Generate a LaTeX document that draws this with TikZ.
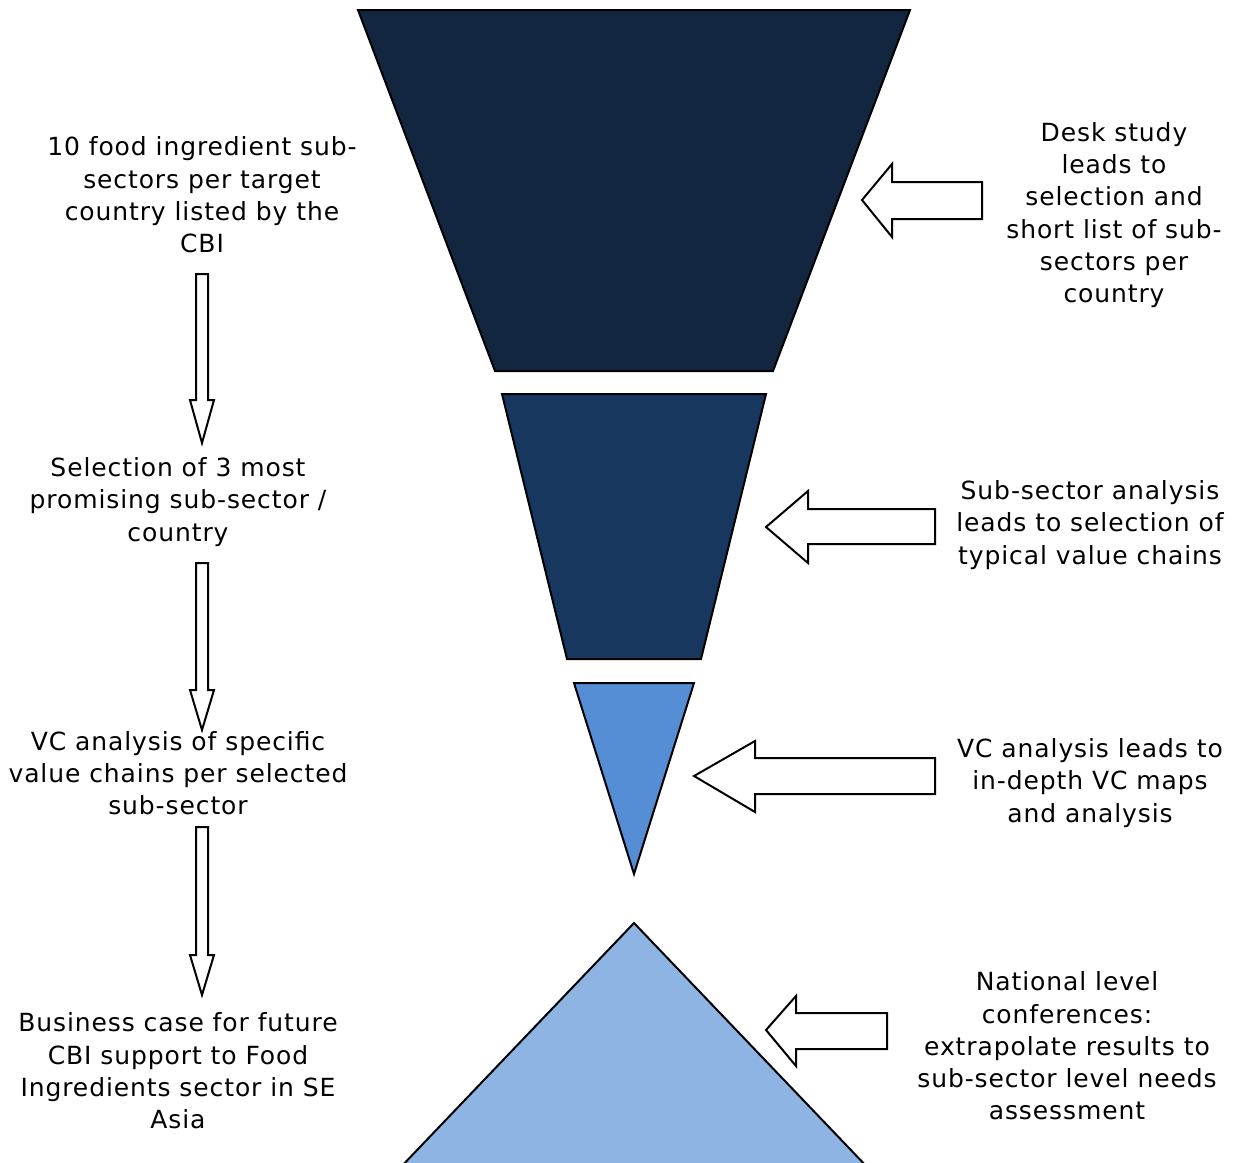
\documentclass[tikz,border=0pt]{standalone}
\usepackage{fontspec}
\setmainfont{DejaVu Sans}[LetterSpace=3.6]
\definecolor{funnelA}{RGB}{19,38,64}
\definecolor{funnelB}{RGB}{23,55,94}
\definecolor{funnelC}{RGB}{85,142,213}
\definecolor{funnelD}{RGB}{142,180,227}
\begin{document}
\begin{tikzpicture}[x=1pt,y=-1pt,
  stage/.style={draw=black,line width=2pt,line join=miter},
  blockarrow/.style={draw=black,fill=white,line width=2pt,line join=miter},
  lbl/.style={align=center,inner sep=0pt,font=\fontsize{25}{32.3}\selectfont}]
\useasboundingbox (0,0) rectangle (1244,1162);
\begin{scope}
\clip (0,0) rectangle (1244,1162);
% funnel stages
\draw[stage,fill=funnelA] (358,10) -- (910,10) -- (773,371) -- (495,371) -- cycle;
\draw[stage,fill=funnelB] (502,394) -- (766,394) -- (701,659) -- (567,659) -- cycle;
\draw[stage,fill=funnelC] (574,683) -- (694,683) -- (634,874) -- cycle;
\draw[stage,fill=funnelD] (634,923) -- (870,1170) -- (398,1170) -- cycle;
\end{scope}
% left column: process steps
\node[lbl] (s1) at (202,195) {10 food ingredient sub-\\sectors per target\\country listed by the\\CBI};
\node[lbl] (s2) at (178,502) {Selection of 3 most\\promising sub-sector /\\country};
\node[lbl] (s3) at (178,773) {VC analysis of specific\\value chains per selected\\sub-sector};
\node[lbl] (s4) at (178,1071) {Business case for future\\CBI support to Food\\Ingredients sector in SE\\Asia};
% right column: activities
\node[lbl] (r1) at (1114,215) {Desk study\\leads to\\selection and\\short list of sub-\\sectors per\\country};
\node[lbl] (r2) at (1090,525) {Sub-sector analysis\\leads to selection of\\typical value chains};
\node[lbl] (r3) at (1090,783) {VC analysis leads to\\in-depth VC maps\\and analysis};
\node[lbl] (r4) at (1067,1046) {National level\\conferences:\\extrapolate results to\\sub-sector level needs\\assessment};
% downward block arrows between steps
\foreach \t/\h/\b in {274/400/443, 563/690/730, 827/955/995}{
  \draw[blockarrow] (196,\t) -- (208,\t) -- (208,\h) -- (214,\h) -- (202,\b)
    -- (190,\h) -- (196,\h) -- cycle;
}
% leftward block arrows towards the funnel
\draw[blockarrow] (982,182) -- (892,182) -- (892,164) -- (862,200) -- (892,237) -- (892,219) -- (982,219) -- cycle;
\draw[blockarrow] (935,509) -- (808,509) -- (808,491) -- (766,527) -- (808,563) -- (808,544) -- (935,544) -- cycle;
\draw[blockarrow] (935,758) -- (755,758) -- (755,741) -- (694,776) -- (755,812) -- (755,794) -- (935,794) -- cycle;
\draw[blockarrow] (887,1013) -- (796,1013) -- (796,996) -- (766,1030) -- (796,1066) -- (796,1049) -- (887,1049) -- cycle;
\end{tikzpicture}
\end{document}
